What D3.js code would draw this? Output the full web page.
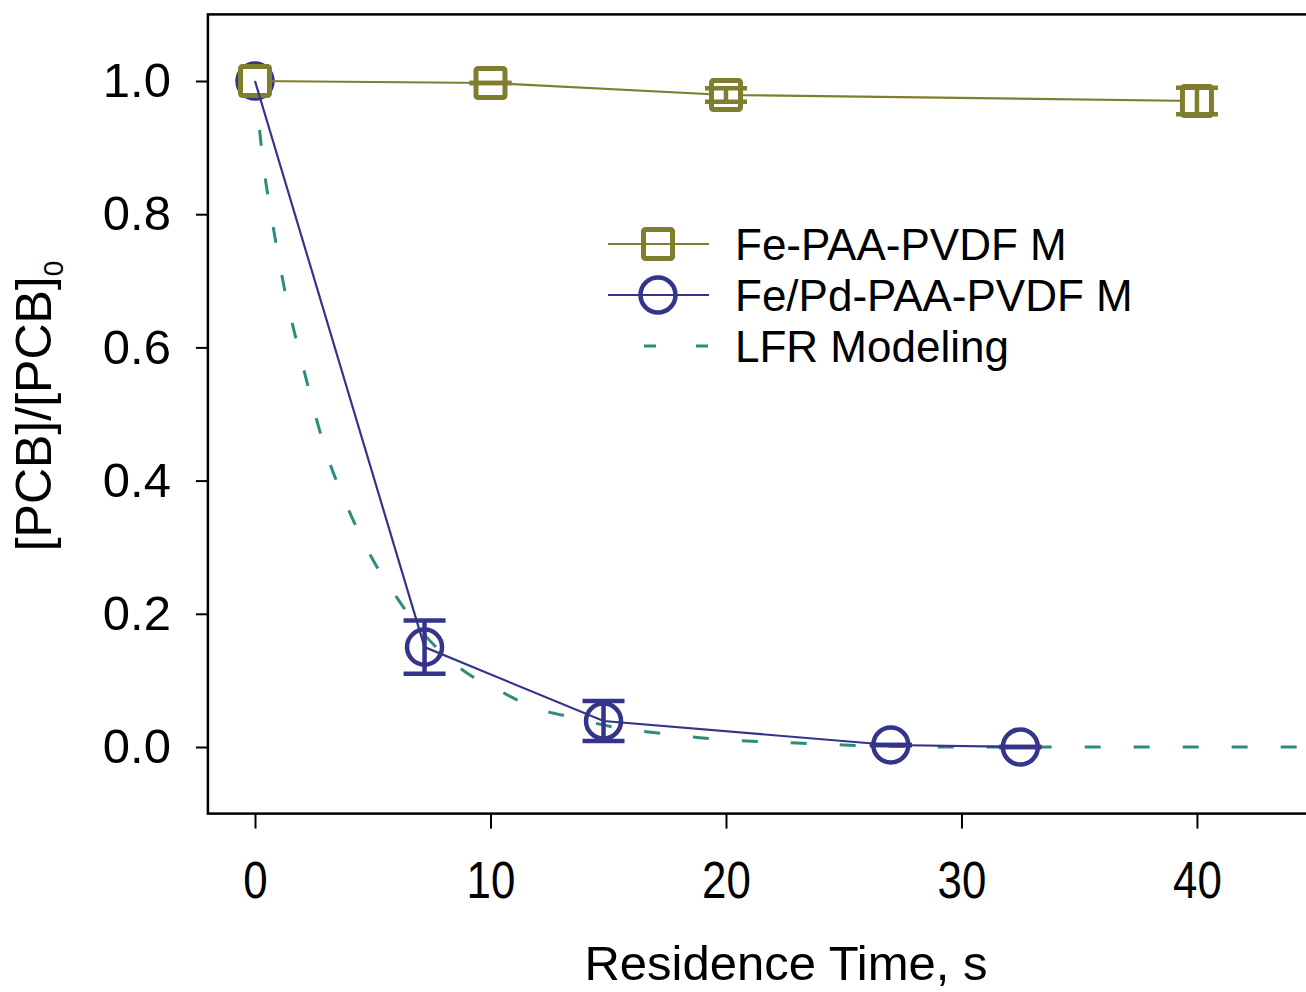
<!DOCTYPE html>
<html>
<head>
<meta charset="utf-8">
<script src="https://cdn.jsdelivr.net/npm/d3@7"></script>
<style>
  html, body { margin: 0; padding: 0; background: #fff; }
  svg { display: block; font-family: "Liberation Sans", Arial, Helvetica, sans-serif; }
</style>
</head>
<body>
<svg id="chart" width="1306" height="992"></svg>
<script>
// ---- data ----
const xTicks = [0, 10, 20, 30, 40];
const yTicks = [0.0, 0.2, 0.4, 0.6, 0.8, 1.0];

const feTime = [0, 10, 20, 40];
const feVal  = [1.0, 0.997, 0.979, 0.970];
const feErr  = [null, 0, 0.01, 0.02];

const pdTime = [0, 7.2, 14.8, 27.0, 32.5];
const pdVal  = [1.0, 0.150, 0.039, 0.003, 0.0];
const pdErr  = [null, 0.04, 0.03, 0, 0];

const modelTime = [0, 0.15, 0.35, 0.64, 0.96, 1.32, 1.74, 2.17, 2.62, 3.14, 3.76, 4.44, 5.2, 6.07, 6.7, 7.8, 9.0, 10.3, 11.8, 13.5, 15.2, 17.1, 19.0, 20.9, 23.0, 25.0, 27.0, 30, 35, 40, 46];
const modelVal  = [1.0, 0.943, 0.876, 0.809, 0.743, 0.676, 0.613, 0.553, 0.491, 0.430, 0.374, 0.320, 0.269, 0.222, 0.19, 0.146, 0.111, 0.086, 0.060, 0.044, 0.030, 0.021, 0.0135, 0.009, 0.006, 0.003, 0.001, 0, 0, 0, 0];

const legendLabels = ["Fe-PAA-PVDF M", "Fe/Pd-PAA-PVDF M", "LFR Modeling"];

// ---- styles ----
const olive = "#7f7d2e";
const navy  = "#34348a";
const teal  = "#2f8c7d";

const svg = d3.select("#chart");
const x = d3.scaleLinear().domain([-2, 45]).range([207.9, 1314.7]);
const y = d3.scaleLinear().domain([-0.1, 1.1]).range([813.6, 14.4]);

// frame
svg.append("rect")
  .attr("x", x(-2)).attr("y", y(1.1))
  .attr("width", x(45) - x(-2)).attr("height", y(-0.1) - y(1.1))
  .attr("fill", "none").attr("stroke", "#000").attr("stroke-width", 2.5);

// axes
const xAxis = svg.append("g").attr("transform", `translate(0,${y(-0.1)})`)
  .call(d3.axisBottom(x).tickValues(xTicks).tickFormat(d3.format("d")).tickSize(15).tickPadding(33));
xAxis.select(".domain").remove();
xAxis.selectAll(".tick line").attr("stroke", "#000").attr("stroke-width", 2);
xAxis.selectAll(".tick text").attr("font-size", 51).attr("fill", "#000")
  .attr("font-family", "'Liberation Sans', Arial, sans-serif")
  .attr("transform", "scale(0.86,1)");

const yAxis = svg.append("g").attr("transform", `translate(${x(-2)},0)`)
  .call(d3.axisLeft(y).tickValues(yTicks).tickFormat(d3.format(".1f")).tickSize(12).tickPadding(25));
yAxis.select(".domain").remove();
yAxis.selectAll(".tick line").attr("stroke", "#000").attr("stroke-width", 2);
yAxis.selectAll(".tick text").attr("font-size", 49).attr("fill", "#000")
  .attr("font-family", "'Liberation Sans', Arial, sans-serif");

// axis titles
svg.append("text")
  .attr("x", 786).attr("y", 980)
  .attr("text-anchor", "middle").attr("font-size", 49).attr("fill", "#000")
  .text("Residence Time, s");

const yt = svg.append("text")
  .attr("transform", "translate(51,406) rotate(-90)")
  .attr("text-anchor", "middle").attr("font-size", 50).attr("fill", "#000");
yt.append("tspan").text("[PCB]/[PCB]");
yt.append("tspan").attr("font-size", 28).attr("dy", 12).text("0");

// model curve
const model = modelTime.map((t, i) => ({ t, v: modelVal[i] }));
svg.append("path")
  .datum(model)
  .attr("d", d3.line().x(d => x(d.t)).y(d => y(d.v)).curve(d3.curveMonotoneX))
  .attr("fill", "none").attr("stroke", teal).attr("stroke-width", 3)
  .attr("stroke-dasharray", "16,33");

const fe = feTime.map((t, i) => ({ t, v: feVal[i], e: feErr[i] }));
const pd = pdTime.map((t, i) => ({ t, v: pdVal[i], e: pdErr[i] }));
const lineGen = d3.line().x(d => x(d.t)).y(d => y(d.v));

function errBars(data, color, sw) {
  const g = svg.append("g").attr("stroke", color).attr("stroke-width", sw).attr("fill", "none");
  data.filter(d => d.e !== null).forEach(d => {
    const cx = x(d.t), y1 = y(d.v + d.e), y2 = y(d.v - d.e);
    g.append("line").attr("x1", cx).attr("x2", cx).attr("y1", y1).attr("y2", y2);
    g.append("line").attr("x1", cx - 21).attr("x2", cx + 21).attr("y1", y1).attr("y2", y1);
    g.append("line").attr("x1", cx - 21).attr("x2", cx + 21).attr("y1", y2).attr("y2", y2);
  });
}

// Fe/Pd circles (under)
svg.append("g").selectAll("circle").data(pd).join("circle")
  .attr("cx", d => x(d.t)).attr("cy", d => y(d.v)).attr("r", 17.5)
  .attr("fill", "none").attr("stroke", navy).attr("stroke-width", 4.5);
errBars(pd, navy, 4.5);

// Fe line + squares
svg.append("path").datum(fe).attr("d", lineGen)
  .attr("fill", "none").attr("stroke", olive).attr("stroke-width", 2.2);
svg.append("g").selectAll("rect").data(fe).join("rect")
  .attr("x", d => x(d.t) - 14.5).attr("y", d => y(d.v) - 14.5)
  .attr("width", 29).attr("height", 29).attr("rx", 2)
  .attr("fill", "#fff").attr("stroke", olive).attr("stroke-width", 5);
errBars(fe, olive, 4.5);

// Fe/Pd line on top
svg.append("path").datum(pd).attr("d", lineGen)
  .attr("fill", "none").attr("stroke", navy).attr("stroke-width", 2.2);

// legend
const lg = svg.append("g");
const rowsY = [244, 295, 346];
// row 1
lg.append("line").attr("x1", 608).attr("x2", 709).attr("y1", rowsY[0]).attr("y2", rowsY[0])
  .attr("stroke", olive).attr("stroke-width", 2.2);
lg.append("rect").attr("x", 658 - 14.5).attr("y", rowsY[0] - 14.5).attr("width", 29).attr("height", 29).attr("rx", 2)
  .attr("fill", "none").attr("stroke", olive).attr("stroke-width", 5);
// row 2
lg.append("line").attr("x1", 608).attr("x2", 709).attr("y1", rowsY[1]).attr("y2", rowsY[1])
  .attr("stroke", navy).attr("stroke-width", 2.2);
lg.append("circle").attr("cx", 658).attr("cy", rowsY[1]).attr("r", 17.5)
  .attr("fill", "none").attr("stroke", navy).attr("stroke-width", 4.5);
// row 3
lg.append("line").attr("x1", 644).attr("x2", 708).attr("y1", rowsY[2]).attr("y2", rowsY[2])
  .attr("stroke", teal).attr("stroke-width", 3).attr("stroke-dasharray", "12,40");

legendLabels.forEach((lab, i) => {
  lg.append("text").attr("x", 735).attr("y", rowsY[i] + 16)
    .attr("font-size", 44).attr("fill", "#000").text(lab);
});
</script>
</body>
</html>
